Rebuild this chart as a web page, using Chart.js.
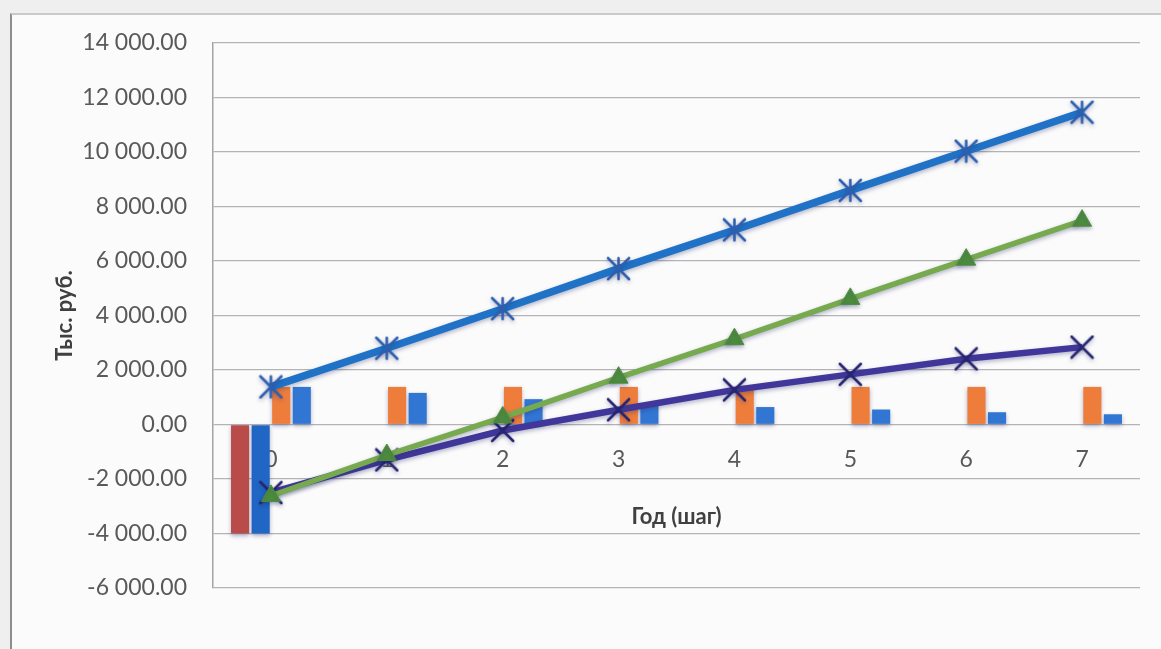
<!DOCTYPE html>
<html lang="ru">
<head>
<meta charset="utf-8">
<title>Денежные потоки проекта</title>
<script src="https://cdn.jsdelivr.net/npm/chart.js@4.4.1/dist/chart.umd.min.js"></script>
<style>
  html, body { margin: 0; padding: 0; width: 1161px; height: 649px; overflow: hidden; background: #efefef; }
  #frame {
    position: absolute; left: 10px; top: 13px; width: 1170px; height: 660px;
    background: #fbfbfb; border-left: 2px solid #8e8e8e; border-top: 2px solid #c9c9c9;
  }
  #wrap { position: absolute; left: 0; top: 0; width: 1161px; height: 649px; }
</style>
</head>
<body>
<div id="frame"></div>
<div id="wrap"><canvas id="chart" width="1161" height="649"></canvas></div>
<script>
// Годы (шаги) расчётного периода
const years = ['0', '1', '2', '3', '4', '5', '6', '7'];

// Столбцы, тыс. руб.
const investments      = [-4000, null, null, null, null, null, null, null];
const investmentsDisc  = [-4000, null, null, null, null, null, null, null];
const cashInflow       = [1380, 1380, 1380, 1380, 1380, 1380, 1380, 1380];
const cashInflowDisc   = [1380, 1160, 930, 740, 640, 550, 450, 375];

// Линии, тыс. руб.
const cumulativeInflow = [1380, 2800, 4250, 5720, 7140, 8590, 10030, 11460];
const cumulativeNet    = [-2620, -1120, 260, 1720, 3130, 4610, 6050, 7480];
const cumulativeNPV    = [-2500, -1300, -220, 540, 1270, 1840, 2410, 2840];

// Подписи оси значений
const yTickValues = [-6000, -4000, -2000, 0, 2000, 4000, 6000, 8000, 10000, 12000, 14000];
const yTickLabels = ['-6 000.00', '-4 000.00', '-2 000.00', '0.00', '2 000.00', '4 000.00',
                     '6 000.00', '8 000.00', '10 000.00', '12 000.00', '14 000.00'];

const xTitle = 'Год (шаг)';
const yTitle = 'Тыс. руб.';

// Маркеры «звёздочка» и «крестик»
function makeMarker(kind, color, size) {
  const c = document.createElement('canvas');
  c.width = size; c.height = size;
  const g = c.getContext('2d');
  g.strokeStyle = color; g.lineWidth = 2.6; g.lineCap = 'round';
  const m = 2, s = size - 2;
  g.beginPath();
  g.moveTo(m, m); g.lineTo(s, s);
  g.moveTo(s, m); g.lineTo(m, s);
  if (kind === 'star') { g.moveTo(size / 2, m); g.lineTo(size / 2, s); }
  g.stroke();
  return c;
}
const starMarker = makeMarker('star', '#2d5faf', 25);
const crossMarker = makeMarker('cross', '#272470', 25);

// Мягкая тень под рядами данных
const shadowPlugin = {
  id: 'seriesShadow',
  beforeDatasetsDraw(chart) {
    const ctx = chart.ctx;
    ctx.save();
    ctx.shadowColor = 'rgba(40, 45, 110, 0.35)';
    ctx.shadowBlur = 4;
    ctx.shadowOffsetY = 2;
  },
  afterDatasetsDraw(chart) { chart.ctx.restore(); }
};

const baseFont = 'Lato, "Open Sans", sans-serif';

new Chart(document.getElementById('chart'), {
  data: {
    labels: years,
    datasets: [
      { type: 'line', label: 'Накопленный приток', data: cumulativeInflow, order: 0,
        borderColor: '#1f72c6', borderWidth: 7.5, pointStyle: starMarker, pointRadius: 12,
        tension: 0 },
      { type: 'line', label: 'Накопленный чистый поток', data: cumulativeNet, order: 0,
        borderColor: '#77a94e', borderWidth: 5.5, pointStyle: 'triangle', pointRadius: 11,
        pointBackgroundColor: '#4d8c3d', pointBorderColor: '#4d8c3d', pointBorderWidth: 1, tension: 0 },
      { type: 'line', label: 'ЧДД нарастающим итогом', data: cumulativeNPV, order: 0,
        borderColor: '#41379a', borderWidth: 6.5, pointStyle: crossMarker, pointRadius: 12,
        tension: 0 },
      { type: 'bar', label: 'Инвестиции', data: investments, order: 1, backgroundColor: '#b94b48' },
      { type: 'bar', label: 'Инвестиции (дисконт.)', data: investmentsDisc, order: 1, backgroundColor: '#2066c4' },
      { type: 'bar', label: 'Приток', data: cashInflow, order: 1, backgroundColor: '#ee7d3b' },
      { type: 'bar', label: 'Приток (дисконт.)', data: cashInflowDisc, order: 1, backgroundColor: '#3276d3' }
    ]
  },
  options: {
    responsive: false,
    animation: false,
    maintainAspectRatio: false,
    datasets: { bar: { categoryPercentage: 0.71, barPercentage: 0.88 } },
    layout: { padding: { left: 0, top: 43, right: 21, bottom: 61 } },
    plugins: { legend: { display: false }, tooltip: { enabled: false } },
    scales: {
      x: {
        type: 'category',
        position: { y: 0 },
        grid: { display: false, drawTicks: false },
        border: { display: false },
        ticks: { color: '#595959', font: { family: baseFont, size: 23 }, padding: 21, maxRotation: 0 },
        title: { display: true, text: xTitle, color: '#404040',
                 font: { family: baseFont, size: 22, weight: 'bold' }, padding: { top: 10, bottom: 0 } }
      },
      y: {
        position: 'left',
        min: -6000, max: 14000,
        afterBuildTicks(scale) { scale.ticks = yTickValues.map(v => ({ value: v })); },
        afterFit(scale) { scale.width = 213; },
        grid: { color: '#b3b3b8', lineWidth: 1.3, drawTicks: false },
        border: { display: true, color: '#a4a4a4', width: 1.5 },
        ticks: {
          color: '#595959', font: { family: baseFont, size: 23 }, padding: 26,
          callback(value) { const i = yTickValues.indexOf(value); return i >= 0 ? yTickLabels[i] : ''; }
        },
        title: { display: true, text: yTitle, color: '#404040',
                 font: { family: baseFont, size: 22, weight: 'bold' }, padding: { top: 52, bottom: 0 } }
      }
    }
  },
  plugins: [shadowPlugin]
});
</script>
</body>
</html>
